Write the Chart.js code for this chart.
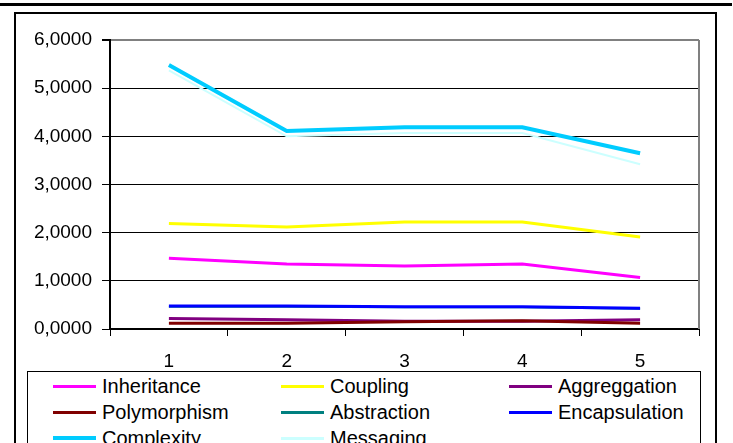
<!DOCTYPE html>
<html>
<head>
<meta charset="utf-8">
<script src="https://cdn.jsdelivr.net/npm/chart.js@4"></script>
<style>
  html, body { margin: 0; padding: 0; background: #fff; width: 733px; height: 443px; overflow: hidden; }
  body { position: relative; font-family: Arial, "Liberation Sans", sans-serif; }
  #topRule { position: absolute; left: 0; top: 3px; width: 732px; height: 3px; background: #000; }
  #frame { position: absolute; left: 14px; top: 12px; width: 699px; height: 500px; border: 2px solid #000; }
  #chart { position: absolute; left: 0; top: 0; }
  #legend { position: absolute; left: 27px; top: 371px; width: 674px; height: 120px; border: 1px solid #000; background: #fff;
    display: grid; grid-template-columns: 228px 228px 200px; grid-auto-rows: 26px; padding: 1px 0 0 25px; box-sizing: border-box; }
  .item { display: flex; align-items: center; font-size: 20px; color: #000; white-space: nowrap; }
  .swatch { width: 43px; margin-right: 6px; }
</style>
</head>
<body>
<div id="topRule"></div>
<div id="frame"></div>
<canvas id="chart" width="733" height="443"></canvas>
<div id="legend"></div>
<script>
// categories and series
const categories = ['1', '2', '3', '4', '5'];
const seriesNames = ['Inheritance', 'Coupling', 'Aggreggation', 'Polymorphism', 'Abstraction', 'Encapsulation', 'Complexity', 'Messaging'];
const inheritance   = [1.47, 1.35, 1.31, 1.35, 1.07];
const coupling      = [2.19, 2.12, 2.22, 2.22, 1.91];
const aggregation   = [0.22, 0.19, 0.16, 0.16, 0.19];
const polymorphism  = [0.12, 0.12, 0.15, 0.17, 0.12];
const abstraction   = [0.46, 0.46, 0.45, 0.45, 0.42];
const encapsulation = [0.48, 0.48, 0.46, 0.46, 0.43];
const complexity    = [5.48, 4.11, 4.19, 4.19, 3.65];
const messaging     = [5.37, 4.00, 4.07, 4.07, 3.42];
const yTicks = [0, 1, 2, 3, 4, 5, 6];

const seriesData = [inheritance, coupling, aggregation, polymorphism, abstraction, encapsulation, complexity, messaging];
const seriesColors = ['#ff00ff', '#ffff00', '#800080', '#800000', '#008080', '#0000ff', '#00ccff', '#ccffff'];
const seriesWidths = [3, 3, 3, 3, 2, 3, 4, 2];

const fmtTick = (v) => v.toFixed(4).replace('.', ',');

// gray border on the right side of the plot area (Excel style)
const plotBorder = {
  id: 'plotBorder',
  beforeDatasetsDraw(chart) {
    const { ctx, chartArea: a } = chart;
    ctx.save();
    ctx.strokeStyle = '#808080';
    ctx.lineWidth = 2;
    ctx.beginPath();
    ctx.moveTo(a.right, a.top);
    ctx.lineTo(a.right, a.bottom);
    ctx.stroke();
    ctx.restore();
  },
};

new Chart(document.getElementById('chart'), {
  type: 'line',
  data: {
    labels: categories,
    datasets: seriesNames.map((name, i) => ({
      label: name,
      data: seriesData[i],
      borderColor: seriesColors[i],
      backgroundColor: seriesColors[i],
      borderWidth: seriesWidths[i],
      pointRadius: 0,
      tension: 0,
      order: seriesNames.length - i,   // later series drawn on top
    })),
  },
  options: {
    responsive: false,
    animation: false,
    layout: { padding: { left: 15, top: 40, right: 34, bottom: 64 } },
    plugins: { legend: { display: false }, tooltip: { enabled: false } },
    scales: {
      x: {
        offset: true,
        afterFit: (s) => { s.height = 50; },
        grid: { offset: true, drawOnChartArea: false, tickLength: 7, tickColor: '#000', tickWidth: 1 },
        border: { color: '#000', width: 2 },
        ticks: { color: '#000', font: { family: 'Arial', size: 19 }, padding: 14 },
      },
      y: {
        min: 0, max: 6,
        afterFit: (s) => { s.width = 95; },
        afterBuildTicks: (s) => { s.ticks = yTicks.map((v) => ({ value: v })); },
        grid: { color: (c) => (c.tick && c.tick.value === 6 ? '#808080' : '#000'), lineWidth: (c) => (c.tick && c.tick.value === 6 ? 2 : 1), tickLength: 8, tickColor: '#000' },
        border: { color: '#000', width: 2 },
        ticks: { color: '#000', font: { family: 'Arial', size: 19 }, padding: 10, callback: fmtTick },
      },
    },
  },
  plugins: [plotBorder],
});

// legend, Excel-like box below the plot
document.getElementById('legend').innerHTML = seriesNames.map((name, i) =>
  `<div class="item"><span class="swatch" style="border-top:${Math.max(seriesWidths[i], 3)}px solid ${seriesColors[i]}"></span>${name}</div>`
).join('');
</script>
</body>
</html>
